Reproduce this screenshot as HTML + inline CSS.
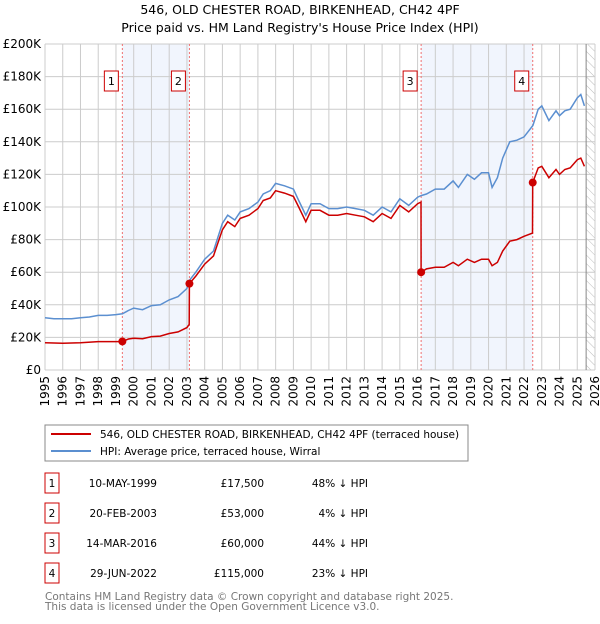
<!DOCTYPE html>
<html><head><meta charset="utf-8"><style>
body{margin:0;background:#fff;width:600px;height:620px;overflow:hidden;font-family:"DejaVu Sans","Liberation Sans",sans-serif;}
svg text{font-family:"DejaVu Sans","Liberation Sans",sans-serif;}
</style></head><body>
<svg id="chart" width="600" height="620" viewBox="0 0 600 620" xmlns="http://www.w3.org/2000/svg">
<defs>
<pattern id="hatch" width="6" height="6" patternUnits="userSpaceOnUse" patternTransform="rotate(-45)">
<line x1="0" y1="0" x2="0" y2="6" stroke="#bbb" stroke-width="1"/>
</pattern>
</defs>
<text x="300" y="14" text-anchor="middle" font-size="12.5">546, OLD CHESTER ROAD, BIRKENHEAD, CH42 4PF</text>
<text x="300" y="32" text-anchor="middle" font-size="12.5">Price paid vs. HM Land Registry's House Price Index (HPI)</text>
<g id="plot"></g>
<rect x="45" y="425" width="423" height="36" fill="#fff" stroke="#888"/>
<line x1="51" y1="434" x2="91" y2="434" stroke="#cc0000" stroke-width="2"/>
<text x="100" y="438" font-size="10.5">546, OLD CHESTER ROAD, BIRKENHEAD, CH42 4PF (terraced house)</text>
<line x1="51" y1="451" x2="91" y2="451" stroke="#5b8fd0" stroke-width="2"/>
<text x="100" y="455" font-size="10.5">HPI: Average price, terraced house, Wirral</text>
<g id="table" font-size="10.5"></g>
<text x="45" y="600" font-size="10.5" fill="#777">Contains HM Land Registry data © Crown copyright and database right 2025.</text>
<text x="45" y="610" font-size="10.5" fill="#777">This data is licensed under the Open Government Licence v3.0.</text>
</svg>
<script>
const yTicks=[0,20,40,60,80,100,120,140,160,180,200];
const years=[1995,1996,1997,1998,1999,2000,2001,2002,2003,2004,2005,2006,2007,2008,2009,2010,2011,2012,2013,2014,2015,2016,2017,2018,2019,2020,2021,2022,2023,2024,2025,2026];
const hpiDates=[1995,1995.5,1996,1996.5,1997,1997.5,1998,1998.5,1999,1999.36,1999.7,2000,2000.5,2001,2001.5,2002,2002.5,2003,2003.14,2003.5,2004,2004.5,2005,2005.3,2005.7,2006,2006.5,2007,2007.3,2007.7,2008,2008.5,2009,2009.3,2009.7,2010,2010.5,2011,2011.5,2012,2012.5,2013,2013.5,2014,2014.5,2015,2015.5,2016,2016.2,2016.5,2017,2017.5,2018,2018.3,2018.8,2019.2,2019.6,2020,2020.2,2020.5,2020.8,2021.2,2021.6,2022,2022.5,2022.8,2023,2023.4,2023.8,2024,2024.3,2024.6,2025,2025.2,2025.4];
const hpiValues=[32,31.5,31.5,31.5,32,32.5,33.5,33.5,34,34.5,36.5,38,37,39.5,40,43,45,50,55,60,68,73,90,95,92,97,99,103,108,110,114.5,113,111,104,95,102,102,99,99,100,99,98,95,100,97,105,101,106,107,108,111,111,116,112,120,117,121,121,112,118,130,140,141,143,150,160,162,153,159,156,159,160,167,169,162];
const priceDates=[1995,1996,1997,1998,1999,1999.36,1999.7,2000,2000.5,2001,2001.5,2002,2002.5,2003,2003.13,2003.14,2003.5,2004,2004.5,2005,2005.3,2005.7,2006,2006.5,2007,2007.3,2007.7,2008,2008.5,2009,2009.3,2009.7,2010,2010.5,2011,2011.5,2012,2012.5,2013,2013.5,2014,2014.5,2015,2015.5,2016,2016.19,2016.2,2016.5,2017,2017.5,2018,2018.3,2018.8,2019.2,2019.6,2020,2020.2,2020.5,2020.8,2021.2,2021.6,2022,2022.48,2022.49,2022.8,2023,2023.4,2023.8,2024,2024.3,2024.6,2025,2025.2,2025.4];
const priceValues=[16.7,16.4,16.7,17.4,17.4,17.5,19,19.5,19.2,20.5,20.8,22.4,23.4,26,28,53,57.6,65,70,86,91,88,93,95,99,104,105.5,110,108.5,106.5,100,91,98,98,95,95,96,95,94,91,96,93,101,97,102,103,60,62,63,63,66,64,68,66,68,68,64,66,73,79,80,82,84,115,124,125,118,123,120,123,124,129,130,125];
const saleLabels=["1","2","3","4"];
const saleDates=[1999.36,2003.14,2016.2,2022.49];
const salePrices=[17.5,53,60,115];
const saleDateText=["10-MAY-1999","20-FEB-2003","14-MAR-2016","29-JUN-2022"];
const salePriceText=["£17,500","£53,000","£60,000","£115,000"];
const saleHpiText=["48% ↓ HPI","4% ↓ HPI","44% ↓ HPI","23% ↓ HPI"];

const NS="http://www.w3.org/2000/svg";
const X0=45,X1=595,Y0=370,Y1=44;
const xs=t=>X0+(t-1995)/(2026-1995)*(X1-X0);
const ys=v=>Y0-v/200*(Y0-Y1);
const plot=document.getElementById('plot');
function mk(tag,attrs,parent){const e=document.createElementNS(NS,tag);for(const k in attrs)e.setAttribute(k,attrs[k]);(parent||plot).appendChild(e);return e;}
for(let i=0;i<saleDates.length;i+=2){
 const r=mk('rect',{x:xs(saleDates[i]),y:Y1,width:xs(saleDates[i+1])-xs(saleDates[i]),height:Y0-Y1,fill:'#eef3fc',opacity:0.8});
 
 
}
const h=mk('rect',{x:xs(2025.5),y:Y1,width:X1-xs(2025.5),height:Y0-Y1,fill:'url(#hatch)'});


yTicks.forEach(v=>{
 mk('line',{x1:X0,x2:X1,y1:ys(v),y2:ys(v),stroke:'#ccc','stroke-width':1});
 const t=mk('text',{x:X0-4,y:ys(v)+4,'text-anchor':'end','font-size':12});
 t.textContent=v===0?'£0':'£'+v+'K';
 
 
});
years.forEach(y=>{
 mk('line',{x1:xs(y),x2:xs(y),y1:Y1,y2:Y0,stroke:'#ccc','stroke-width':1});
 const t=mk('text',{x:0,y:0,'font-size':12,'text-anchor':'end',transform:`translate(${xs(y)+4},${Y0+6}) rotate(-90)`});
 t.textContent=y;
 
 
});
mk('line',{x1:xs(2025.5),x2:xs(2025.5),y1:Y1,y2:Y0,stroke:'#888','stroke-width':1});
saleDates.forEach((d,i)=>{
 mk('line',{x1:xs(d),x2:xs(d),y1:Y1,y2:Y0,stroke:'#f07070','stroke-width':1,'stroke-dasharray':'2,2'});
 const g=mk('g',{});
 
 
 mk('rect',{x:xs(d)-18,y:71,width:14,height:20,fill:'#fff',stroke:'#cc0000'},g);
 const t=mk('text',{x:xs(d)-11,y:85,'text-anchor':'middle','font-size':11},g);
 t.textContent=saleLabels[i];
});
const hp=mk('path',{d:hpiDates.map((d,i)=>(i?'L':'M')+xs(d).toFixed(1)+','+ys(hpiValues[i]).toFixed(1)).join(''),fill:'none',stroke:'#5b8fd0','stroke-width':1.5});


const pp=mk('path',{d:priceDates.map((d,i)=>(i?'L':'M')+xs(d).toFixed(1)+','+ys(priceValues[i]).toFixed(1)).join(''),fill:'none',stroke:'#cc0000','stroke-width':1.5});


saleDates.forEach((d,i)=>{
 const c=mk('circle',{cx:xs(d),cy:ys(salePrices[i]),r:4,fill:'#cc0000'});
 
 
});
const tb=document.getElementById('table');
saleLabels.forEach((l,i)=>{
 const cy=483+i*30;
 const g=mk('g',{},tb);
 
 
 mk('rect',{x:45,y:cy-10,width:14,height:20,fill:'#fff',stroke:'#cc0000'},g);
 const a=mk('text',{x:52,y:cy+4,'text-anchor':'middle'},g);a.textContent=l;
 const b=mk('text',{x:157,y:cy+4,'text-anchor':'end'},g);b.textContent=saleDateText[i];
 const c=mk('text',{x:264,y:cy+4,'text-anchor':'end'},g);c.textContent=salePriceText[i];
 const e=mk('text',{x:368,y:cy+4,'text-anchor':'end'},g);e.textContent=saleHpiText[i];
});
</script>
</body></html>
